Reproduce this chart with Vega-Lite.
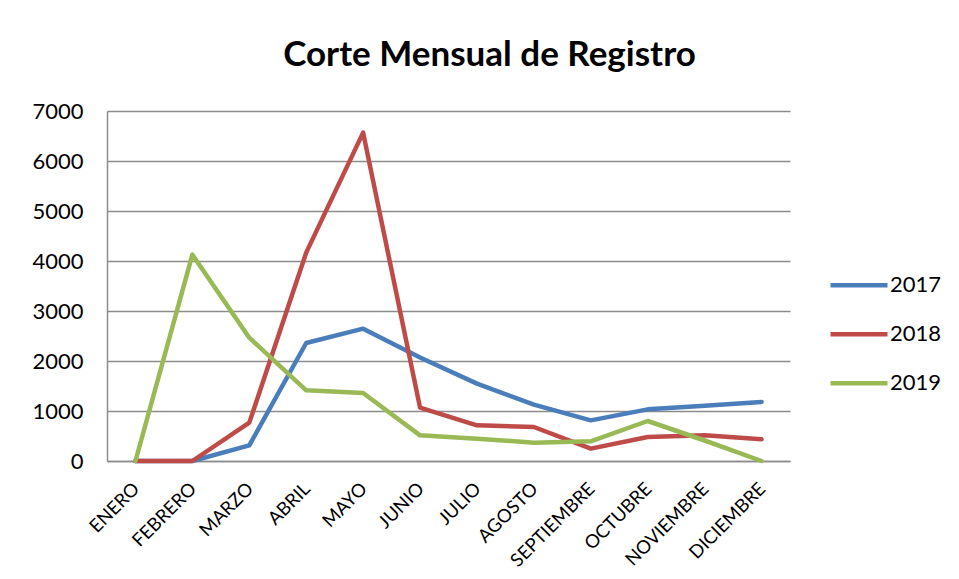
{
  "$schema": "https://vega.github.io/schema/vega-lite/v6.json",
  "autosize": "none",
  "width": 683,
  "height": 350,
  "padding": {"left": 107, "top": 111, "right": 169, "bottom": 118},
  "background": "white",
  "title": {
    "text": "Corte Mensual de Registro",
    "font": "Lato",
    "fontSize": 35,
    "fontWeight": "bold",
    "color": "#000000",
    "anchor": "middle",
    "frame": "group",
    "dx": 41,
    "offset": 27
  },
  "data": {
    "values": [
      {"mes": "ENERO", "anio": "2017", "valor": 0},
      {"mes": "FEBRERO", "anio": "2017", "valor": 0},
      {"mes": "MARZO", "anio": "2017", "valor": 313},
      {"mes": "ABRIL", "anio": "2017", "valor": 2360},
      {"mes": "MAYO", "anio": "2017", "valor": 2647},
      {"mes": "JUNIO", "anio": "2017", "valor": 2070},
      {"mes": "JULIO", "anio": "2017", "valor": 1547},
      {"mes": "AGOSTO", "anio": "2017", "valor": 1127},
      {"mes": "SEPTIEMBRE", "anio": "2017", "valor": 813},
      {"mes": "OCTUBRE", "anio": "2017", "valor": 1033},
      {"mes": "NOVIEMBRE", "anio": "2017", "valor": 1107},
      {"mes": "DICIEMBRE", "anio": "2017", "valor": 1180},
      {"mes": "ENERO", "anio": "2018", "valor": 0},
      {"mes": "FEBRERO", "anio": "2018", "valor": 0},
      {"mes": "MARZO", "anio": "2018", "valor": 767},
      {"mes": "ABRIL", "anio": "2018", "valor": 4167},
      {"mes": "MAYO", "anio": "2018", "valor": 6567},
      {"mes": "JUNIO", "anio": "2018", "valor": 1067},
      {"mes": "JULIO", "anio": "2018", "valor": 713},
      {"mes": "AGOSTO", "anio": "2018", "valor": 680},
      {"mes": "SEPTIEMBRE", "anio": "2018", "valor": 247},
      {"mes": "OCTUBRE", "anio": "2018", "valor": 480},
      {"mes": "NOVIEMBRE", "anio": "2018", "valor": 513},
      {"mes": "DICIEMBRE", "anio": "2018", "valor": 433},
      {"mes": "ENERO", "anio": "2019", "valor": 0},
      {"mes": "FEBRERO", "anio": "2019", "valor": 4127},
      {"mes": "MARZO", "anio": "2019", "valor": 2467},
      {"mes": "ABRIL", "anio": "2019", "valor": 1413},
      {"mes": "MAYO", "anio": "2019", "valor": 1360},
      {"mes": "JUNIO", "anio": "2019", "valor": 513},
      {"mes": "JULIO", "anio": "2019", "valor": 447},
      {"mes": "AGOSTO", "anio": "2019", "valor": 367},
      {"mes": "SEPTIEMBRE", "anio": "2019", "valor": 393},
      {"mes": "OCTUBRE", "anio": "2019", "valor": 800},
      {"mes": "NOVIEMBRE", "anio": "2019", "valor": 410},
      {"mes": "DICIEMBRE", "anio": "2019", "valor": 0}
    ]
  },
  "mark": {"type": "line", "strokeWidth": 4.5, "strokeCap": "round", "strokeJoin": "round"},
  "encoding": {
    "x": {
      "field": "mes",
      "type": "nominal",
      "sort": ["ENERO", "FEBRERO", "MARZO", "ABRIL", "MAYO", "JUNIO", "JULIO", "AGOSTO", "SEPTIEMBRE", "OCTUBRE", "NOVIEMBRE", "DICIEMBRE"],
      "scale": {"type": "point", "padding": 0.5},
      "axis": {
        "title": null,
        "labelAngle": -45,
        "labelAlign": "right",
        "labelBaseline": "top",
        "labelPadding": 18,
        "labelOffset": -6,
        "labelFont": "Lato",
        "labelFontSize": 18.5,
        "labelColor": "#000000",
        "ticks": false,
        "grid": false,
        "domainColor": "#8c8c8c",
        "domainWidth": 1.5
      }
    },
    "y": {
      "field": "valor",
      "type": "quantitative",
      "scale": {"domain": [0, 7000], "nice": false},
      "axis": {
        "title": null,
        "values": [0, 1000, 2000, 3000, 4000, 5000, 6000, 7000],
        "format": "d",
        "labelFont": "Lato",
        "labelFontSize": 22,
        "labelColor": "#000000",
        "labelPadding": 24,
        "ticks": false,
        "gridColor": "#8c8c8c",
        "gridWidth": 1.5,
        "domainColor": "#8c8c8c",
        "domainWidth": 1.5
      }
    },
    "color": {
      "field": "anio",
      "type": "nominal",
      "scale": {"domain": ["2017", "2018", "2019"], "range": ["#4A7EBB", "#BE4B48", "#98B954"]},
      "legend": {
        "title": null,
        "orient": "none",
        "legendX": 721,
        "legendY": 150,
        "symbolType": "stroke",
        "symbolSize": 3249,
        "symbolStrokeWidth": 4.5,
        "labelFont": "Lato",
        "labelFontSize": 22,
        "labelColor": "#000000",
        "labelOffset": 0,
        "clipHeight": 48.5,
        "rowPadding": 0
      }
    }
  },
  "config": {
    "view": {"stroke": null}
  }
}
